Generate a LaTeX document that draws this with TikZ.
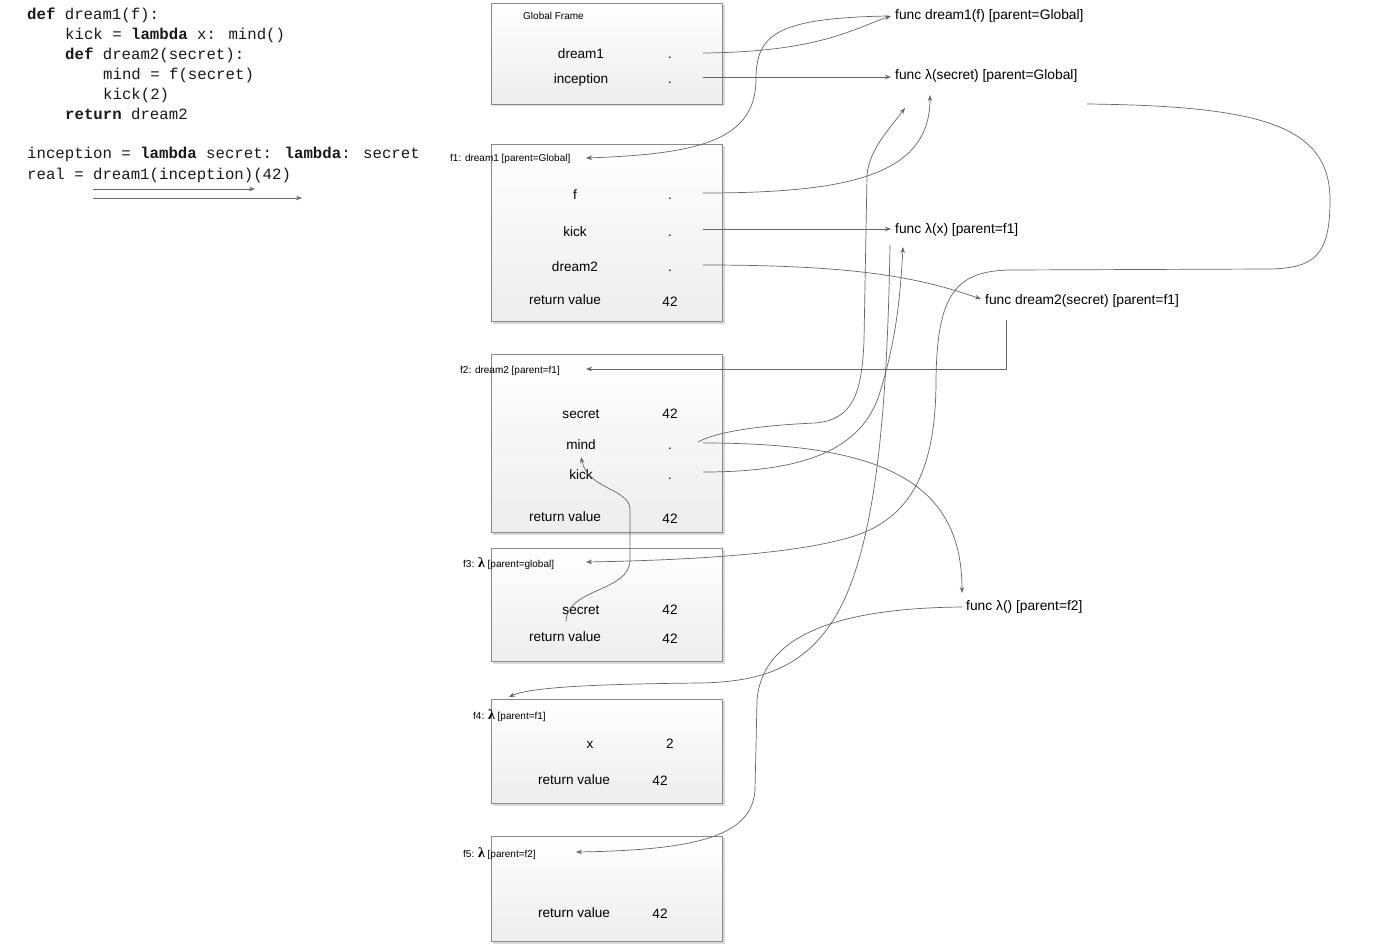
\documentclass[tikz,border=0pt]{standalone}
\usepackage{fontspec}
\setmainfont{Liberation Sans}
\newfontfamily\codefont{Liberation Mono}
\newfontfamily\lamfont{Liberation Serif}
\usetikzlibrary{arrows.meta}
\definecolor{linegray}{HTML}{666666}
\definecolor{framegray}{HTML}{8A8A8A}
\newcommand{\lamb}{{\lamfont\bfseries\fontsize{14}{14}\selectfont λ}}
\begin{document}
\begin{tikzpicture}[x=1pt,y=-1pt,
  frame/.style={draw=framegray, line width=0.8pt, top color=white, bottom color=black!7, anchor=north west, inner sep=0pt, minimum width=231pt},
  shadowbox/.style={fill=black!15},
  lbl/.style={font=\fontsize{13.6}{16}\selectfont, anchor=base, inner sep=0pt},
  small/.style={font=\fontsize{10}{12}\selectfont, anchor=base west, inner sep=0pt},
  func/.style={font=\fontsize{13.8}{16}\selectfont, anchor=base west, inner sep=0pt},
  code/.style={font=\codefont\fontsize{15.7}{18}\selectfont, anchor=base west, inner sep=0pt, text=black!90},
  conn/.style={draw=linegray, line width=0.7pt},
  arr/.style={conn, -{Stealth[length=6pt,width=4.5pt]}},
]
\useasboundingbox (0,0) rectangle (1388,944);
\fill[white] (0,0) rectangle (1388,944);

% ---------- code ----------
\node[code] (l1) at (27,20) {\textbf{def} dream1(f):};
\node[code] (l2) at (65,40) {kick = \textbf{lambda} x: mind()};
\node[code] (l3) at (65,60) {\textbf{def} dream2(secret):};
\node[code] (l4) at (103,80) {mind = f(secret)};
\node[code] (l5) at (103,100) {kick(2)};
\node[code] (l6) at (65,120) {\textbf{return} dream2};
\node[code] (l7) at (27,159) {inception = \textbf{lambda} secret: \textbf{lambda}: secret};
\node[code] (l8) at (27,179) {real = dream1(inception)(42)};
\coordinate (ca1) at (93,189); \coordinate (cb1) at (255,189);
\coordinate (ca2) at (93,198); \coordinate (cb2) at (302,198);
\draw[arr] (ca1) -- (cb1);
\draw[arr] (ca2) -- (cb2);

% ---------- frames ----------
\foreach \y/\h in {3/101, 144/177, 354/178, 548/113, 699/104, 836/105}
  \fill[shadowbox] (493,\y+2) rectangle (724.5,\y+\h+2.5);
\node[frame, minimum height=101pt] (gf) at (491,3) {};
\node[frame, minimum height=177pt] (f1) at (491,144) {};
\node[frame, minimum height=178pt] (f2) at (491,354) {};
\node[frame, minimum height=113pt] (f3) at (491,548) {};
\node[frame, minimum height=104pt] (f4) at (491,699) {};
\node[frame, minimum height=105pt] (f5) at (491,836) {};

% frame titles
\node[small] (gft) at (523,20) {Global Frame};
\node[small] (f1t) at (450,162) {f1: dream1 [parent=Global]};
\node[small] (f2t) at (460,373) {f2: dream2 [parent=f1]};
\node[small] (f3t) at (463,567) {f3: \lamb\ [parent=global]};
\node[small] (f4t) at (473,719) {f4: \lamb\ [parent=f1]};
\node[small] (f5t) at (463,857) {f5: \lamb\ [parent=f2]};

% global rows
\node[lbl] (gdream) at (581,59) {dream1};
\node[lbl] (gdreamv) at (670,59) {.};
\node[lbl] (ginc) at (581,84) {inception};
\node[lbl] (gincv) at (670,84) {.};
% f1 rows
\node[lbl] (f1f) at (575,199) {f};
\node[lbl] (f1fv) at (670,199) {.};
\node[lbl] (f1k) at (575,236) {kick};
\node[lbl] (f1kv) at (670,236) {.};
\node[lbl] (f1d) at (575,271) {dream2};
\node[lbl] (f1dv) at (670,271) {.};
\node[lbl] (f1r) at (565,304) {return value};
\node[lbl] (f1rv) at (670,306) {42};
% f2 rows
\node[lbl] (f2s) at (581,418) {secret};
\node[lbl] (f2sv) at (670,418) {42};
\node[lbl] (f2m) at (581,449) {mind};
\node[lbl] (f2mv) at (670,449) {.};
\node[lbl] (f2k) at (581,479) {kick};
\node[lbl] (f2kv) at (670,479) {.};
\node[lbl] (f2r) at (565,521) {return value};
\node[lbl] (f2rv) at (670,523) {42};
% f3 rows
\node[lbl] (f3s) at (581,614) {secret};
\node[lbl] (f3sv) at (670,614) {42};
\node[lbl] (f3r) at (565,641) {return value};
\node[lbl] (f3rv) at (670,643) {42};
% f4 rows
\node[lbl] (f4x) at (590,748) {x};
\node[lbl] (f4xv) at (670,748) {2};
\node[lbl] (f4r) at (574,784) {return value};
\node[lbl] (f4rv) at (660,785) {42};
% f5 rows
\node[lbl] (f5r) at (574,917) {return value};
\node[lbl] (f5rv) at (660,918) {42};

% ---------- function objects ----------
\node[func] (fnd1) at (895,20) {func dream1(f) [parent=Global]};
\node[func] (fnls) at (895,80) {func λ(secret) [parent=Global]};
\node[func] (fnlx) at (895,233) {func λ(x) [parent=f1]};
\node[func] (fnd2) at (985,304) {func dream2(secret) [parent=f1]};
\node[func] (fnle) at (966,610) {func λ() [parent=f2]};

% ---------- connector end points ----------
\coordinate (sGd) at (703,53);
\coordinate (sGi) at (703,77);
\coordinate (sF1f) at (703,193);
\coordinate (sF1k) at (703,229);
\coordinate (sF1d) at (703,265);
\coordinate (sF2m) at (698,442);
\coordinate (sF2mb) at (703,443);
\coordinate (sF2k) at (703,472);
\coordinate (sF3) at (566,622);
\coordinate (sD1) at (888,16);
\coordinate (sLs) at (1087,104);
\coordinate (sLx) at (890,245);
\coordinate (sD2) at (1006,320);
\coordinate (sLe) at (962,607);

\coordinate (tD1) at (891,16);
\coordinate (tLs) at (891,77);
\coordinate (tLx) at (891,229);
\coordinate (tD2) at (981,299);
\coordinate (tLe) at (962,593);
\coordinate (tF1) at (586,158);
\coordinate (tF2) at (586,369);
\coordinate (tF3) at (586,562);
\coordinate (tF4) at (509,697);
\coordinate (tF5) at (576,852);
\coordinate (tUpA) at (930,95);
\coordinate (tUpB) at (905,108);
\coordinate (tUpC) at (903,247);
\coordinate (tMind) at (581,457);

% ---------- connectors ----------
\draw[arr] (sGd) .. controls (820,52) and (855,28) .. (tD1);
\draw[arr] (sGi) -- (tLs);
\draw[arr] (sD1) .. controls (775,18) and (756,35) .. (756,80)
   .. controls (755,140) and (700,154) .. (tF1);
\draw[arr] (sF1f) .. controls (850,193) and (930,175) .. (tUpA);
\draw[arr] (sF1k) -- (tLx);
\draw[arr] (sF1d) .. controls (860,265) and (920,278) .. (tD2);
\draw[arr] (sD2) -- (1006,369) -- (tF2);
\draw[arr] (sF2m) .. controls (720,430) and (770,425) .. (815,423)
   .. controls (852,420) and (862,395) .. (864,340) -- (867,175)
   .. controls (869,150) and (890,128) .. (tUpB);
\draw[arr] (sF2mb) .. controls (880,443) and (962,480) .. (tLe);
\draw[arr] (sF2k) .. controls (800,472) and (862,452) .. (880,392)
   .. controls (896,340) and (900,300) .. (tUpC);
\draw[arr] (sLs) .. controls (1260,106) and (1330,125) .. (1330,200)
   .. controls (1330,255) and (1315,268) .. (1270,269) -- (1010,270)
   .. controls (955,271) and (937,295) .. (936,380)
   .. controls (936,480) and (905,525) .. (840,540)
   .. controls (790,553) and (700,560) .. (tF3);
\draw[arr] (sLx) .. controls (887,420) and (875,560) .. (830,625)
   .. controls (800,668) and (760,682) .. (700,683)
   .. controls (600,684) and (530,687) .. (tF4);
\draw[arr] (sLe) .. controls (850,608) and (763,630) .. (757,700) -- (755,790)
   .. controls (752,835) and (700,850) .. (tF5);
\draw[arr] (sF3) .. controls (566,588) and (630,592) .. (630,560) -- (630,510)
   .. controls (630,488) and (588,490) .. (tMind);
\end{tikzpicture}
\end{document}
